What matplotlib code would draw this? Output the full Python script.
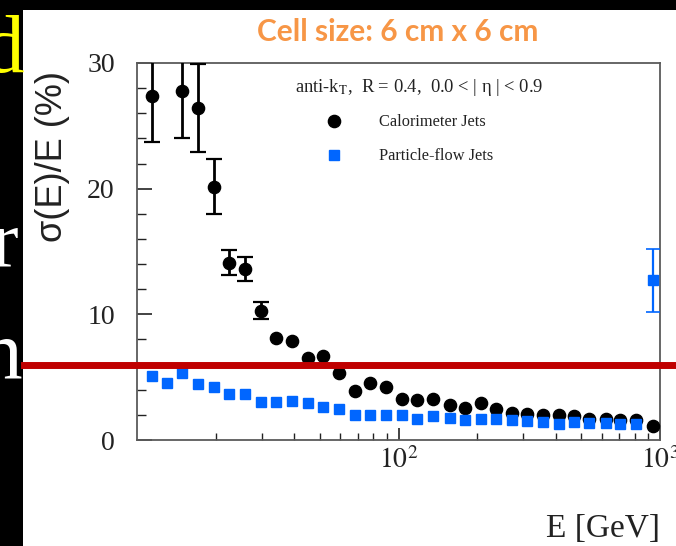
import numpy as np
import matplotlib.pyplot as plt
from matplotlib.patches import Rectangle
from matplotlib.lines import Line2D
from matplotlib.ticker import LogLocator, MultipleLocator, NullFormatter

plt.rcParams['mathtext.fontset'] = 'stix'

# jet energy bins [GeV]
energy = [11.4, 13.0, 14.9, 17.1, 19.7, 22.4, 25.8, 29.7, 34.1, 39.0, 45.0,
          51.5, 59.2, 67.9, 77.7, 89.8, 103, 118, 136, 157, 179, 206, 237,
          272, 310, 356, 410, 467, 537, 622, 703, 810, 938]

# calorimeter jets, sigma(E)/E in %
calo = [27.4, np.nan, 27.8, 26.4, 20.15, 14.1, 13.6, 10.3, 8.1, 7.9, 6.55,
        6.68, 5.3, 3.92, 4.5, 4.18, 3.3, 3.2, 3.26, 2.78, 2.58, 2.92, 2.46,
        2.18, 2.05, 1.99, 1.99, 1.91, 1.7, 1.65, 1.62, 1.58, 1.14]
# only the first bars stick out of the markers (nan = hidden)
nan = np.nan
calo_err = [3.7, nan, 3.8, 3.5, 2.2, 1.0, 0.95, 0.7, nan, nan, nan,
            nan, nan, nan, nan, nan, nan, nan, nan, nan, nan, nan, nan,
            nan, nan, nan, nan, nan, nan, nan, nan, nan, nan]

# particle-flow jets
pflow = [5.09, 4.56, 5.31, 4.48, 4.19, 3.66, 3.66, 3.05, 3.05, 3.13, 2.97,
         2.65, 2.47, 1.99, 1.99, 2.02, 2.0, 1.7, 1.93, 1.73, 1.59, 1.64, 1.64,
         1.59, 1.51, 1.46, 1.27, 1.46, 1.33, 1.33, 1.27, 1.25, 12.7]
pflow_err = [nan, nan, nan, nan, nan, nan, nan, nan, nan, nan, nan,
             nan, nan, nan, nan, nan, nan, nan, nan, nan, nan, nan, nan,
             nan, nan, nan, nan, nan, nan, nan, nan, nan, 2.5]

red_level = 5.97
xticks = [100, 1000]
xticklabels = ['$10^{2}$', '$10^{3}$']
yticks = [0, 10, 20, 30]

blue = '#0066ff'
serif = 'Liberation Serif'
ink = '#222222'

fig = plt.figure(figsize=(6.76, 5.46), dpi=100, facecolor='black')
W, H = 676, 546
fig.patches.append(Rectangle((23 / W, 0), 1 - 23 / W, 1 - 10 / H,
                             transform=fig.transFigure, facecolor='white',
                             edgecolor='none', zorder=-1))

ax = fig.add_axes([137 / W, 1 - 440 / H, 523 / W, 377 / H])
ax.set_xscale('log')
ax.set_xlim(10, 1000)
ax.set_ylim(0, 30)

ax.errorbar(energy, calo, yerr=calo_err, fmt='o', color='black', ms=8.8,
            elinewidth=2.0, capsize=5.5, capthick=1.6, zorder=3)
ax.errorbar(energy, pflow, yerr=pflow_err, fmt='s', color=blue, ms=7.8,
            elinewidth=1.6, capsize=5, capthick=1.2, zorder=4)

ax.axhline(red_level, xmin=(24 - 137) / 523, xmax=(676 - 137) / 523,
           color='#c00000', lw=5, clip_on=False, zorder=10)

for s in ['left', 'bottom', 'right', 'top']:
    ax.spines[s].set_color('#5a5a5a')
    ax.spines[s].set_linewidth(1.3)

ax.set_xticks(xticks, xticklabels)
ax.xaxis.set_minor_locator(LogLocator(base=10, subs=range(2, 10)))
ax.xaxis.set_minor_formatter(NullFormatter())
ax.set_yticks(yticks)
ax.yaxis.set_minor_locator(MultipleLocator(2))
ax.tick_params(axis='both', which='both', direction='in', colors=ink,
               top=False, right=False)
ax.tick_params(axis='y', which='major', length=11, width=1.2, pad=16,
               labelsize=20)
ax.tick_params(axis='y', which='minor', length=6.5, width=1.0)
ax.tick_params(axis='x', which='major', length=9, width=1.2, pad=5,
               labelsize=20)
ax.tick_params(axis='x', which='minor', length=5, width=1.0)
for lab in ax.get_xticklabels() + ax.get_yticklabels():
    lab.set_fontfamily(serif)
    lab.set_color(ink)

ax.set_ylabel('σ(E)/E (%)', fontsize=26, family='Liberation Sans', color=ink)
ax.yaxis.set_label_coords(-0.128, 0.753)
ax.set_xlabel('E [GeV]', fontsize=24, family=serif, loc='right', color=ink)
ax.xaxis.set_label_coords(1.0, -0.195)

ax.text(0.302, 0.936, r'anti-k$_{\rm T}$,  R = 0.4,  0.0 < | η | < 0.9',
        transform=ax.transAxes, fontsize=13.3, family=serif, va='center',
        ha='left', color=ink)
handles = [Line2D([], [], marker='o', ls='none', color='black', ms=8.8),
           Line2D([], [], marker='s', ls='none', color=blue, ms=7.8)]
ax.legend(handles, ['Calorimeter Jets', 'Particle-flow Jets'],
          loc='upper left', bbox_to_anchor=(0.346, 0.864), frameon=False,
          prop={'family': serif, 'size': 11.8}, borderpad=0, borderaxespad=0,
          handletextpad=1.75, labelspacing=1.1, labelcolor=ink)

fig.text(398 / W, 1 - 32 / H, 'Cell size: 6 cm x 6 cm', ha='center',
         va='center', fontsize=21.5, fontweight='bold', family='Lato',
         color='#f79646')

# cut-off slide text on the black strip
fig.text(25 / W, 1 - 72 / H, 'd', ha='right', va='baseline', fontsize=60,
         family=serif, color='#ffff00')
fig.text(18 / W, 1 - 267 / H, 'r', ha='right', va='baseline', fontsize=60,
         family=serif, color='white')
fig.text(22 / W, 1 - 378 / H, 'n', ha='right', va='baseline', fontsize=60,
         family=serif, color='white')

fig.savefig('out.png', dpi=100, facecolor=fig.get_facecolor())
